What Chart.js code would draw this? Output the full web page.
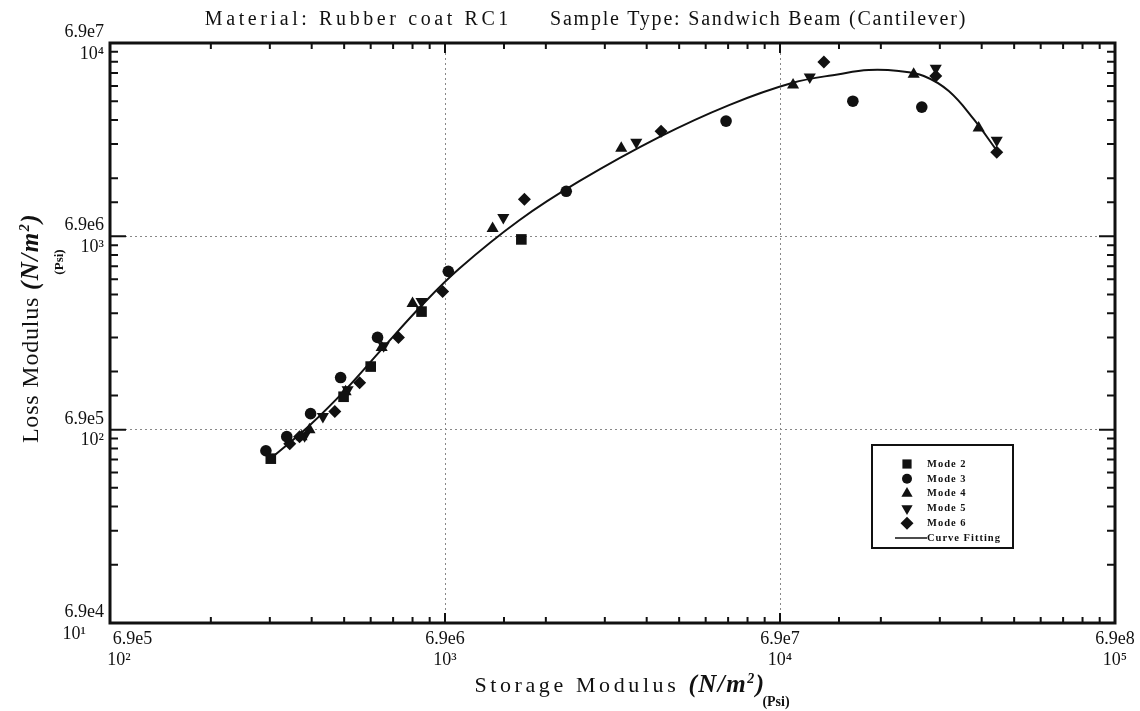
<!DOCTYPE html>
<html>
<head>
<meta charset="utf-8">
<script src="https://cdn.jsdelivr.net/npm/chart.js@4"></script>
<style>
  body { margin: 0; background: #fff; }
  #wrap { position: relative; width: 1140px; height: 711px; font-family: "Liberation Serif", "DejaVu Serif", serif; color: #111; }
  #myChart { position: absolute; left: 0; top: 0; }
  .lbl { position: absolute; white-space: nowrap; }
  #title { left: 586px; top: 18px; transform: translate(-50%, -50%); font-size: 20px; }
  #title .a { letter-spacing: 3.6px; }
  #title .b { letter-spacing: 1.8px; }
  #xtitle { left: 620px; top: 684px; transform: translate(-50%, -50%); font-size: 22px; }
  #xtitle .sp { letter-spacing: 3.6px; }
  #xpsi { left: 776px; top: 702px; transform: translate(-50%, -50%); font-size: 14px; font-weight: bold; }
  #ytitle { left: 30px; top: 328px; transform: translate(-50%, -50%) rotate(-90deg); font-size: 24px; }
  #ytitle .sp { letter-spacing: 0.8px; }
  #ypsi { left: 59px; top: 262px; transform: translate(-50%, -50%) rotate(-90deg); font-size: 13px; font-weight: bold; }
  .bi { font-weight: bold; font-style: italic; font-size: 25px; letter-spacing: 1.5px; }
  .bi sup { font-size: 14px; }
</style>
</head>
<body>
<div id="wrap">
  <canvas id="myChart" width="1140" height="711"></canvas>
  <div class="lbl" id="title"><span class="a">Material: Rubber coat RC1</span><span style="display:inline-block;width:38px"></span><span class="b">Sample Type: Sandwich Beam (Cantilever)</span></div>
  <div class="lbl" id="xtitle"><span class="sp">Storage Modulus </span><span class="bi">(N/m<sup>2</sup>)</span></div>
  <div class="lbl" id="xpsi">(Psi)</div>
  <div class="lbl" id="ytitle"><span class="sp">Loss Modulus </span><span class="bi">(N/m<sup>2</sup>)</span></div>
  <div class="lbl" id="ypsi">(Psi)</div>
</div>
<script>
// tick labels (psi value, N/m^2 text, psi text)
const xTickPsi = [100, 1000, 10000, 100000];
const xTickSI = ['\u2007\u2007\u2007\u2007\u20076.9e5', '6.9e6', '6.9e7', '6.9e8'];
const xTickPsiText = ['\u2007\u200710²', '10³', '10⁴', '10⁵'];
const yTickPsi = [10, 100, 1000, 10000];
const yTickSI = ['6.9e4', '6.9e5', '6.9e6', '6.9e7'];
const yTickPsiText = ['10¹\u2007\u2007', '10²', '10³', '10⁴'];

const legendNames = ['Mode 2', 'Mode 3', 'Mode 4', 'Mode 5', 'Mode 6', 'Curve Fitting'];

// storage modulus (x) and loss modulus (y), psi
const mode2X = [302, 498, 600, 851, 1690];
const mode2Y = [70.8, 148, 212, 408, 964];

const mode3X = [292, 337, 397, 488, 629, 1023, 2301, 6902, 16500, 26500];
const mode3Y = [77.8, 92, 121, 186, 300, 659, 1710, 3945, 5000, 4660];

const mode4X = [373, 394, 505, 647, 800, 1387, 3358, 10940, 25060, 39170];
const mode4Y = [92, 100, 157, 266, 450, 1099, 2857, 6055, 6900, 3630];

const mode5X = [381, 432, 512, 656, 851, 1493, 3724, 12270, 29170, 44360];
const mode5Y = [93, 117, 161, 272, 460, 1253, 3069, 6670, 7410, 3142];

const mode6X = [344, 368, 469, 556, 726, 984, 1726, 4415, 13520, 29170, 44360];
const mode6Y = [84.5, 92, 124, 175, 300, 519, 1556, 3500, 7980, 6750, 2723];

const fitX = [304, 394, 505, 647, 857, 1104, 1667, 2518, 4355, 7047, 10860, 15000, 18410, 22640, 26870, 31900, 37860, 44060];
const fitY = [71.6, 105, 161, 260, 444, 682, 1211, 1928, 3258, 4775, 6210, 6900, 7245, 7160, 6750, 5640, 4036, 2825];

function pts(xs, ys) {
    return xs.map(function (x, i) { return { x: x, y: ys[i] }; });
}

function isDecade(v) {
    const l = Math.log10(v);
    return Math.abs(l - Math.round(l)) < 1e-6;
}

function findIdx(list, v) {
    for (let i = 0; i < list.length; i++) {
        if (Math.abs(list[i] - v) / list[i] < 1e-6) return i;
    }
    return -1;
}

const ink = '#111';

function symbol(ctx, style, x, y, r, rot) {
    ctx.beginPath();
    if (style === 'circle') {
        ctx.arc(x, y, r, 0, Math.PI * 2);
    } else if (style === 'rect') {
        const s = r * Math.SQRT1_2;
        ctx.rect(x - s, y - s, 2 * s, 2 * s);
    } else if (style === 'rectRot') {
        ctx.moveTo(x, y - r); ctx.lineTo(x + r, y); ctx.lineTo(x, y + r); ctx.lineTo(x - r, y);
    } else if (style === 'triangle') {
        const d = rot ? -1 : 1;
        ctx.moveTo(x, y - d * r);
        ctx.lineTo(x + r * 0.866, y + d * r * 0.5);
        ctx.lineTo(x - r * 0.866, y + d * r * 0.5);
    }
    ctx.closePath();
    ctx.fill();
}

// frame, inward tick marks and boxed legend
const framePlugin = {
    id: 'framePlugin',
    afterDraw(chart) {
        const ctx = chart.ctx;
        const a = chart.chartArea;
        const xs = chart.scales.x, ys = chart.scales.y;
        ctx.save();
        ctx.strokeStyle = ink;
        ctx.lineWidth = 2;
        xs.ticks.forEach(function (t) {
            const p = xs.getPixelForValue(t.value);
            const len = isDecade(t.value) ? 10 : 6;
            ctx.beginPath();
            ctx.moveTo(p, a.bottom); ctx.lineTo(p, a.bottom - len);
            ctx.moveTo(p, a.top); ctx.lineTo(p, a.top + len);
            ctx.stroke();
        });
        ys.ticks.forEach(function (t) {
            const p = ys.getPixelForValue(t.value);
            const len = isDecade(t.value) ? 16 : 8;
            ctx.beginPath();
            ctx.moveTo(a.left, p); ctx.lineTo(a.left + len, p);
            ctx.moveTo(a.right, p); ctx.lineTo(a.right - len, p);
            ctx.stroke();
        });
        ctx.lineWidth = 3;
        ctx.strokeRect(a.left, a.top, a.right - a.left, a.bottom - a.top);

        // legend box
        const bx = 872, by = 445, bw = 141, bh = 103;
        ctx.lineWidth = 2;
        ctx.strokeRect(bx, by, bw, bh);
        ctx.fillStyle = ink;
        ctx.font = 'bold 10.5px "Liberation Serif"';
        ctx.letterSpacing = '1px';
        ctx.textBaseline = 'middle';
        chart.data.datasets.forEach(function (ds, i) {
            const ry = by + 19 + i * 14.8;
            if (ds.showLine) {
                ctx.lineWidth = 1.5;
                ctx.beginPath();
                ctx.moveTo(bx + 23, ry); ctx.lineTo(bx + 55, ry);
                ctx.stroke();
                ctx.fillText(ds.label, bx + 55, ry);
            } else {
                const r = ds.pointStyle === 'circle' ? 5 : 6.5;
                symbol(ctx, ds.pointStyle, bx + 35, ry, r, ds.pointRotation === 180);
                ctx.fillText(ds.label, bx + 55, ry);
            }
        });
        ctx.restore();
    }
};

function markerSet(label, data, style, radius, rotation) {
    return {
        label: label,
        data: data,
        showLine: false,
        pointStyle: style,
        pointRotation: rotation || 0,
        pointRadius: radius,
        pointBackgroundColor: ink,
        pointBorderColor: ink,
        pointBorderWidth: 0
    };
}

const data = {
    datasets: [
        markerSet(legendNames[0], pts(mode2X, mode2Y), 'rect', 7.5),
        markerSet(legendNames[1], pts(mode3X, mode3Y), 'circle', 5.8),
        markerSet(legendNames[2], pts(mode4X, mode4Y), 'triangle', 7),
        markerSet(legendNames[3], pts(mode5X, mode5Y), 'triangle', 7, 180),
        markerSet(legendNames[4], pts(mode6X, mode6Y), 'rectRot', 6.5),
        {
            label: legendNames[5],
            data: pts(fitX, fitY),
            showLine: true,
            borderColor: ink,
            borderWidth: 2,
            pointRadius: 0,
            tension: 0.4,
            fill: false
        }
    ]
};

const tickFont = { family: '"Liberation Serif"', size: 18 };

const config = {
    type: 'scatter',
    data: data,
    options: {
        responsive: false,
        animation: false,
        layout: { padding: { top: 43, right: 25, left: 0, bottom: 0 } },
        plugins: {
            legend: { display: false },
            tooltip: { enabled: false }
        },
        scales: {
            x: {
                type: 'logarithmic',
                min: 100,
                max: 100000,
                afterFit: function (s) { s.height = 88; },
                border: { display: false, dash: [2, 3] },
                grid: {
                    drawTicks: false,
                    lineWidth: 1,
                    color: function (c) {
                        return c.tick && isDecade(c.tick.value) ? '#888' : 'rgba(0,0,0,0)';
                    }
                },
                ticks: {
                    autoSkip: false,
                    maxRotation: 0,
                    padding: 5,
                    color: ink,
                    font: tickFont,
                    callback: function (v) {
                        const i = findIdx(xTickPsi, v);
                        return i >= 0 ? [xTickSI[i], xTickPsiText[i]] : '';
                    }
                }
            },
            y: {
                type: 'logarithmic',
                min: 10,
                max: 10000,
                afterFit: function (s) { s.width = 110; },
                border: { display: false, dash: [2, 3] },
                grid: {
                    drawTicks: false,
                    lineWidth: 1,
                    color: function (c) {
                        return c.tick && isDecade(c.tick.value) ? '#888' : 'rgba(0,0,0,0)';
                    }
                },
                ticks: {
                    autoSkip: false,
                    padding: 6,
                    color: ink,
                    font: tickFont,
                    callback: function (v) {
                        const i = findIdx(yTickPsi, v);
                        return i >= 0 ? [yTickSI[i], yTickPsiText[i]] : '';
                    }
                }
            }
        }
    },
    plugins: [framePlugin]
};

const myChart = new Chart(document.getElementById('myChart'), config);
</script>
</body>
</html>
